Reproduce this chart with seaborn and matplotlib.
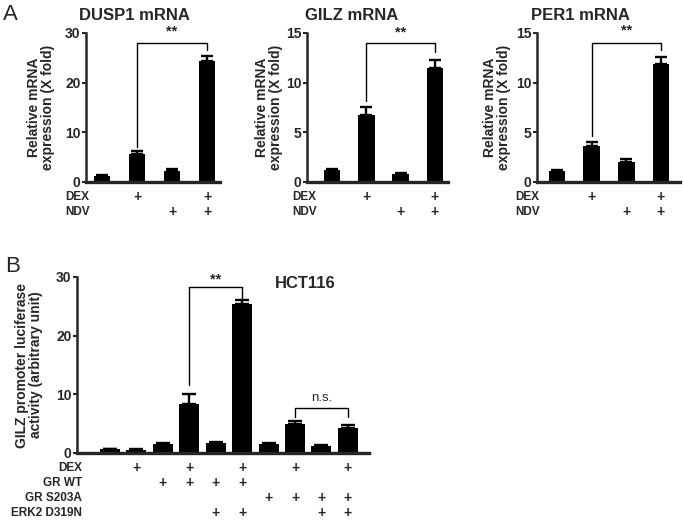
import matplotlib
matplotlib.use("Agg")
import matplotlib.pyplot as plt
import matplotlib.transforms as mtransforms
import seaborn as sns

sns.set_style("ticks")
plt.rcParams["font.family"] = ["Liberation Sans", "DejaVu Sans"]

# ---- panel A data ----
a_conditions = ["ctrl", "DEX", "NDV", "DEX+NDV"]
a_rows = ["DEX", "NDV"]
a_plus = [[0, 1, 0, 1],
          [0, 0, 1, 1]]

dusp1_mean = [1.2, 5.7, 2.2, 24.3]
dusp1_err = [0.15, 0.6, 0.35, 1.1]
gilz_mean = [1.2, 6.7, 0.8, 11.5]
gilz_err = [0.1, 0.9, 0.08, 0.8]
per1_mean = [1.1, 3.6, 2.0, 11.9]
per1_err = [0.08, 0.4, 0.3, 0.7]

# ---- panel B data ----
b_conditions = ["c1", "c2", "c3", "c4", "c5", "c6", "c7", "c8", "c9", "c10"]
b_rows = ["DEX", "GR WT", "GR S203A", "ERK2 D319N"]
b_plus = [[0, 1, 0, 1, 0, 1, 0, 1, 0, 1],
          [0, 0, 1, 1, 1, 1, 0, 0, 0, 0],
          [0, 0, 0, 0, 0, 0, 1, 1, 1, 1],
          [0, 0, 0, 0, 1, 1, 0, 0, 1, 1]]
hct_mean = [0.6, 0.55, 1.6, 8.4, 1.7, 25.4, 1.5, 4.9, 1.25, 4.3]
hct_err = [0.1, 0.1, 0.15, 1.6, 0.15, 0.6, 0.12, 0.6, 0.1, 0.5]

W, H = 683, 521
fig = plt.figure(figsize=(W / 100, H / 100), dpi=100)


def px_axes(left, top, right, bottom):
    return fig.add_axes([left / W, 1 - bottom / H, (right - left) / W, (bottom - top) / H])


def prism_bars(ax, names, mean, err, width, capsize, ymax, step, xlim):
    sns.barplot(x=names, y=mean, ax=ax, color="black", saturation=1,
                width=width, errorbar=None, edgecolor="black", linewidth=0)
    ax.errorbar(range(len(mean)), mean, yerr=[[0] * len(err), err], fmt="none",
                ecolor="black", elinewidth=1.7, capsize=capsize, capthick=1.7)
    ax.set_ylim(0, ymax)
    ax.set_xlim(*xlim)
    ax.set_yticks(range(0, ymax + 1, step))
    ax.set_xticks([])
    for lab in ax.get_yticklabels():
        lab.set_fontweight("bold")
    ax.tick_params(axis="y", length=3, width=1.5, labelsize=10, pad=1)
    sns.despine(ax=ax)
    ax.spines["left"].set_linewidth(1.8)
    ax.spines["bottom"].set_linewidth(2.4)
    ax.set_xlabel("")


def bracket(ax, x1, x2, y1, ytop, y2, text, ty, bold=True, size=10.5):
    ax.plot([x1, x1, x2, x2], [y1, ytop, ytop, y2], color="black", lw=1.0, clip_on=False)
    ax.text((x1 + x2) / 2, ty, text, ha="center", va="center", fontsize=size,
            fontweight="bold" if bold else "normal", clip_on=False)


def plus_rows(ax, rows, plus, ys, label_x, ha, size):
    tr = mtransforms.blended_transform_factory(ax.transData, ax.transAxes)
    for r, row in enumerate(rows):
        ax.text(label_x, ys[r], row, transform=ax.transAxes, ha=ha, va="center",
                fontsize=size, fontweight="bold")
        for i, p in enumerate(plus[r]):
            if p:
                ax.text(i, ys[r], "+", transform=tr, ha="center", va="center",
                        fontsize=size + 1.5, fontweight="bold")


# ---- panel A ----
ylab_a = "Relative mRNA\nexpression (X fold)"
specs = [
    ("DUSP1 mRNA", dusp1_mean, dusp1_err, 30, 10, (86, 33, 220, 182), (-0.46, 3.37),
     134, -0.23, -0.157, (7.0, 28.0, 26.6, 30.3)),
    ("GILZ mRNA", gilz_mean, gilz_err, 15, 5, (307, 33, 448, 182), (-0.73, 3.38),
     352, -0.17, -0.106, (8.2, 14.0, 13.1, 15.1)),
    ("PER1 mRNA", per1_mean, per1_err, 15, 5, (537, 33, 680, 182), (-0.58, 3.55),
     580, -0.18, -0.154, (4.6, 14.0, 13.3, 15.3)),
]
for title, mean, err, ymax, step, box, xlim, tx, ylx, rowx, br in specs:
    ax = px_axes(*box)
    prism_bars(ax, a_conditions, mean, err, 0.48, 4.5, ymax, step, xlim)
    ax.set_ylabel(ylab_a, fontsize=10, fontweight="bold", linespacing=1.0)
    ax.yaxis.set_label_coords(ylx, 0.5)
    bracket(ax, 1, 3, br[0], br[1], br[2], "**", br[3])
    plus_rows(ax, a_rows, a_plus, [-0.10, -0.20], rowx, "left", 8.5)
    fig.text(tx / W, 1 - 15 / H, title, ha="center", va="center",
             fontsize=12, fontweight="bold")

fig.text(3 / W, 1 - 14 / H, "A", ha="left", va="center", fontsize=16)

# ---- panel B ----
axb = px_axes(77, 277, 369, 453)
prism_bars(axb, b_conditions, hct_mean, hct_err, 0.76, 5, 30, 10, (-1.25, 9.8))
axb.set_ylabel("GILZ promoter luciferase\nactivity (arbitrary unit)", fontsize=10,
               fontweight="bold", linespacing=1.0)
axb.yaxis.set_label_coords(-0.115, 0.5)
bracket(axb, 3, 5, 11.6, 28.3, 26.4, "**", 29.6)
bracket(axb, 7, 9, 6.1, 7.7, 6.1, "n.s.", 9.4, bold=False, size=9.5)
fig.text(305 / W, 1 - 283 / H, "HCT116", ha="center", va="center",
         fontsize=12, fontweight="bold")
plus_rows(axb, b_rows, b_plus, [-0.085, -0.17, -0.256, -0.34], 0.017, "right", 8.5)

fig.text(5 / W, 1 - 266 / H, "B", ha="left", va="center", fontsize=16)

fig.savefig("out.png", dpi=100)
